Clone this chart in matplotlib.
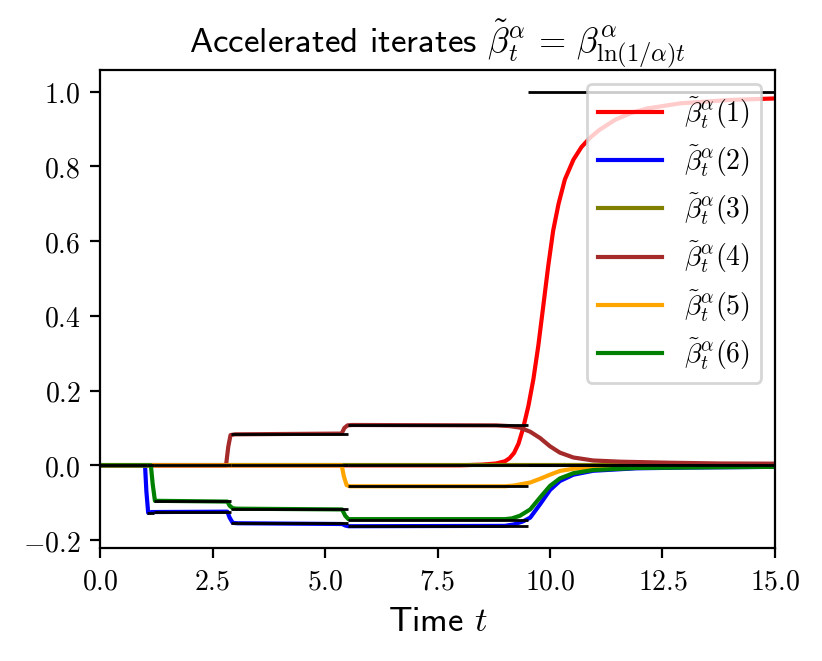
import numpy as np
import matplotlib
matplotlib.use("Agg")
import matplotlib.pyplot as plt
from matplotlib.ticker import FuncFormatter, MultipleLocator

plt.rcParams['mathtext.fontset'] = 'cm'

# curves: (time, value) per coordinate
t_1 = [0, 8.0, 8.5, 8.8, 9.0, 9.1, 9.2, 9.3, 9.4, 9.52, 9.63, 9.74, 9.85, 9.96, 10.07,
       10.19, 10.33, 10.52, 10.7, 10.9, 11.1, 11.45, 11.8, 12.15, 12.9, 14.0, 15.0]
b_1 = [0, 0, 0.002, 0.005, 0.011, 0.019, 0.033, 0.058, 0.098, 0.159, 0.23, 0.32, 0.426,
       0.533, 0.628, 0.7, 0.765, 0.818, 0.852, 0.878, 0.898, 0.925, 0.943, 0.955, 0.969,
       0.978, 0.982]

t_2 = [0, 1.0, 1.03, 1.07, 1.15, 2.83, 2.88, 2.95, 3.05, 5.38, 5.45, 5.52, 9.0, 9.2,
       9.4, 9.56, 9.78, 10.0, 10.22, 10.52, 10.96, 11.9, 13.0, 15.0]
b_2 = [0, 0, -0.07, -0.127, -0.125, -0.124, -0.140, -0.154, -0.155, -0.157, -0.161, -0.163,
       -0.162, -0.158, -0.150, -0.140, -0.104, -0.066, -0.042, -0.025, -0.0145, -0.008, -0.006, -0.004]

t_3 = [0, 15.0]
b_3 = [0, 0]

t_4 = [0, 2.8, 2.85, 2.9, 3.0, 5.37, 5.43, 5.5, 5.6, 8.8, 9.1, 9.33, 9.56, 9.78, 10.0,
       10.22, 10.52, 10.96, 11.56, 12.67, 13.78, 15.0]
b_4 = [0, 0, 0.05, 0.081, 0.083, 0.085, 0.1, 0.107, 0.108, 0.107, 0.105, 0.101, 0.09, 0.073,
       0.051, 0.034, 0.021, 0.013, 0.0098, 0.007, 0.005, 0.0045]

t_5 = [0, 5.37, 5.42, 5.48, 5.55, 9.0, 9.2, 9.33, 9.56, 9.78, 10.0, 10.22, 10.52, 10.96,
       11.85, 13.5, 15.0]
b_5 = [0, 0, -0.03, -0.053, -0.056, -0.056, -0.054, -0.051, -0.046, -0.036, -0.025, -0.015,
       -0.009, -0.0053, -0.004, -0.003, -0.002]

t_6 = [0, 1.13, 1.17, 1.22, 1.3, 2.83, 2.88, 2.95, 3.05, 5.38, 5.45, 5.52, 9.0, 9.15, 9.33,
       9.56, 9.78, 10.0, 10.22, 10.52, 10.96, 11.93, 13.78, 15.0]
b_6 = [0, 0, -0.05, -0.095, -0.095, -0.097, -0.108, -0.115, -0.116, -0.118, -0.135, -0.144,
       -0.144, -0.142, -0.135, -0.118, -0.086, -0.055, -0.035, -0.021, -0.0125, -0.007, -0.005, -0.004]

# limiting piecewise constant values (black segments)
stage_times = [0, 1.05, 1.2, 2.9, 5.5, 9.52, 15.0]
lim_1 = [0, 0, 0, 0, 0, 1.0]
lim_2 = [0, -0.128, -0.125, -0.155, -0.163, 0]
lim_3 = [0, 0, 0, 0, 0, 0]
lim_4 = [0, 0, 0, 0.083, 0.108, 0]
lim_5 = [0, 0, 0, 0, -0.055, 0]
lim_6 = [0, 0, -0.095, -0.116, -0.145, 0]

times = [t_1, t_2, t_3, t_4, t_5, t_6]
curves = [b_1, b_2, b_3, b_4, b_5, b_6]
limits = [lim_1, lim_2, lim_3, lim_4, lim_5, lim_6]
colors = ['red', 'blue', 'olive', 'brown', 'orange', 'green']

fig = plt.figure(figsize=(4.11, 3.305), dpi=200)
ax = fig.add_axes([0.1217, 0.171, 0.8211, 0.7231])

for i in range(6):
    ax.plot(times[i], curves[i], color=colors[i], lw=1.5,
            label=r'$\tilde{\beta}_t^{\alpha}(%d)$' % (i + 1))
    ax.hlines(limits[i], stage_times[:-1], stage_times[1:], color='k', lw=1)

ax.set_xlim(0, 15)
ax.xaxis.set_major_locator(MultipleLocator(2.5))
ax.yaxis.set_major_locator(MultipleLocator(0.2))
fmt = FuncFormatter(lambda v, p: r'$%.1f$' % v)
ax.xaxis.set_major_formatter(fmt)
ax.yaxis.set_major_formatter(fmt)
ax.tick_params(labelsize=10)

ax.set_title(r'Accelerated iterates $\tilde{\beta}_t^{\alpha} \,=\, \beta^{\alpha}_{\ln(1/\alpha)t}$',
             fontsize=12.6, family='cmss10')
ax.set_xlabel(r'Time $t$', fontsize=12.5, family='cmss10')
ax.legend(loc='upper right', fontsize=10, handlelength=2.3, labelspacing=0.45)

fig.savefig('out.png', dpi=200)
